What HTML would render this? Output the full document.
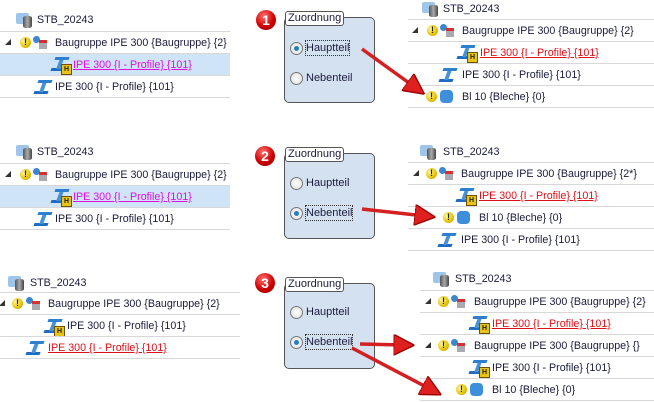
<!DOCTYPE html>
<html><head><meta charset="utf-8"><style>
body{margin:0;width:654px;height:402px;background:#fff;position:relative;overflow:hidden;font-family:"Liberation Sans",sans-serif;font-size:10.7px;color:#1b1b3c}
.a{position:absolute}
.t{position:absolute;white-space:nowrap;line-height:14px}
.r{color:#e0101a;text-decoration:underline}
.m{color:#e010e0;text-decoration:underline}
.ln{position:absolute;height:1px;background:#d8d8d8}
.hl{position:absolute;background:#cfe4f7}
.w{position:absolute;width:11px;height:11px;border-radius:50%;background:radial-gradient(circle at 35% 35%,#fff6a0,#e6c200 60%,#a88a00);font:bold 9px/11px "Liberation Sans",sans-serif;text-align:center;color:#222}
.tr{position:absolute;width:0;height:0;border-left:6px solid transparent;border-bottom:6px solid #333}
.as{position:absolute;width:16px;height:14px}
.as:before{content:"";position:absolute;left:0;top:0;width:7px;height:7px;border-radius:50%;background:#3a86cf}
.as:after{content:"";position:absolute;left:6px;top:4px;width:8px;height:9px;background:#a9a9b0;border-top:3px solid #d83030;box-sizing:border-box}
.ip{position:absolute;width:16px;height:14px;transform:skewX(-20deg);background:linear-gradient(#2d7fd0,#2d7fd0) 0 0/14px 3px no-repeat,linear-gradient(#4592d8,#4592d8) 5px 2px/4px 10px no-repeat,linear-gradient(#1f6cc0,#1f6cc0) 0 11px/14px 3px no-repeat}
.h{position:absolute;width:9px;height:9px;background:#e9c21a;border:1px solid #6a5000;font:bold 7px/9px "Liberation Sans",sans-serif;text-align:center;color:#222}
.st{position:absolute;width:18px;height:16px}
.st:before{content:"";position:absolute;left:0;top:1px;width:13px;height:11px;background:#9fc6ea;border-radius:2px}
.st:after{content:"";position:absolute;left:7px;top:4px;width:9px;height:12px;background:linear-gradient(90deg,#555,#aaa,#444);border-radius:3px/2px}
.bl{position:absolute;width:13px;height:13px;background:#3d8fdc;border-radius:4px}
.num{position:absolute;width:20px;height:20px;border-radius:50%;background:radial-gradient(circle at 40% 30%,#ff7070,#d00000 55%,#800);color:#fff;font:bold 14px/20px "Liberation Sans",sans-serif;text-align:center}
.dlg{position:absolute;width:89px;height:84px;border:1px solid #555;border-radius:5px;background:#d4e1f0}
.lg{position:absolute;background:#fff;border:1px solid #555;border-radius:3px;padding:0 2px;line-height:13px;font-size:11px}
.rb{position:absolute;width:11px;height:11px;border-radius:50%;border:1px solid #777;background:radial-gradient(circle,#fff,#ddd)}
.rb.on:after{content:"";position:absolute;left:3px;top:3px;width:5px;height:5px;border-radius:50%;background:#1f7fc8}
.fo{outline:1px dotted #333}
.dlgt{font-size:11px}
</style></head><body>

<!-- Panel 1 left -->
<div class="st" style="left:16px;top:12px"></div><span class="t" style="left:37px;top:13px">STB_20243</span>
<div class="ln" style="left:0;top:31px;width:230px"></div>
<div class="tr" style="left:5px;top:39px"></div><div class="w" style="left:20px;top:37px">!</div><div class="as" style="left:33px;top:36px"></div>
<span class="t" style="left:55px;top:36px">Baugruppe IPE 300 {Baugruppe} {2}</span>
<div class="hl" style="left:0;top:53px;width:230px;height:22px"></div>
<div class="ln" style="left:0;top:53px;width:230px"></div>
<div class="ip" style="left:53px;top:57px"></div><div class="h" style="left:61px;top:64px">H</div>
<span class="t m" style="left:73px;top:58px">IPE 300 {I - Profile} {101}</span>
<div class="ln" style="left:0;top:75px;width:230px"></div>
<div class="ip" style="left:36px;top:80px"></div><span class="t" style="left:55px;top:80px">IPE 300 {I - Profile} {101}</span>
<div class="ln" style="left:0;top:97px;width:230px"></div>

<!-- Panel 2 left -->
<div class="st" style="left:16px;top:144px"></div><span class="t" style="left:37px;top:145px">STB_20243</span>
<div class="ln" style="left:0;top:163px;width:230px"></div>
<div class="tr" style="left:5px;top:171px"></div><div class="w" style="left:20px;top:169px">!</div><div class="as" style="left:33px;top:168px"></div>
<span class="t" style="left:55px;top:168px">Baugruppe IPE 300 {Baugruppe} {2}</span>
<div class="hl" style="left:0;top:185px;width:230px;height:22px"></div>
<div class="ln" style="left:0;top:185px;width:230px"></div>
<div class="ip" style="left:53px;top:189px"></div><div class="h" style="left:61px;top:196px">H</div>
<span class="t m" style="left:73px;top:190px">IPE 300 {I - Profile} {101}</span>
<div class="ln" style="left:0;top:207px;width:230px"></div>
<div class="ip" style="left:36px;top:212px"></div><span class="t" style="left:55px;top:212px">IPE 300 {I - Profile} {101}</span>
<div class="ln" style="left:0;top:229px;width:230px"></div>

<!-- Panel 3 left -->
<div class="st" style="left:8px;top:275px"></div><span class="t" style="left:30px;top:276px">STB_20243</span>
<div class="ln" style="left:0;top:292px;width:240px"></div>
<div class="tr" style="left:-1px;top:300px"></div><div class="w" style="left:12px;top:298px">!</div><div class="as" style="left:26px;top:297px"></div>
<span class="t" style="left:48px;top:297px">Baugruppe IPE 300 {Baugruppe} {2}</span>
<div class="ln" style="left:0;top:314px;width:240px"></div>
<div class="ip" style="left:46px;top:319px"></div><div class="h" style="left:54px;top:326px">H</div>
<span class="t" style="left:67px;top:319px">IPE 300 {I - Profile} {101}</span>
<div class="ln" style="left:0;top:336px;width:240px"></div>
<div class="ip" style="left:28px;top:341px"></div><span class="t r" style="left:48px;top:341px">IPE 300 {I - Profile} {101}</span>
<div class="ln" style="left:0;top:358px;width:240px"></div>

<!-- Dialogs -->
<div class="num" style="left:256px;top:10px">1</div>
<div class="dlg" style="left:284px;top:17px"></div><div class="lg" style="left:285px;top:11px">Zuordnung</div>
<div class="rb on" style="left:290px;top:42px"></div><span class="t fo dlgt" style="left:306px;top:41px">Hauptteil</span>
<div class="rb" style="left:290px;top:72px"></div><span class="t dlgt" style="left:306px;top:71px">Nebenteil</span>

<div class="num" style="left:255px;top:146px">2</div>
<div class="dlg" style="left:284px;top:153px"></div><div class="lg" style="left:285px;top:147px">Zuordnung</div>
<div class="rb" style="left:290px;top:177px"></div><span class="t dlgt" style="left:306px;top:176px">Hauptteil</span>
<div class="rb on" style="left:290px;top:207px"></div><span class="t fo dlgt" style="left:306px;top:206px">Nebenteil</span>

<div class="num" style="left:255px;top:273px">3</div>
<div class="dlg" style="left:284px;top:283px"></div><div class="lg" style="left:285px;top:277px">Zuordnung</div>
<div class="rb" style="left:290px;top:306px"></div><span class="t dlgt" style="left:306px;top:305px">Hauptteil</span>
<div class="rb on" style="left:290px;top:336px"></div><span class="t fo dlgt" style="left:306px;top:335px">Nebenteil</span>

<!-- Panel 1 right -->
<div class="st" style="left:422px;top:1px"></div><span class="t" style="left:443px;top:2px">STB_20243</span>
<div class="ln" style="left:408px;top:19px;width:246px"></div>
<div class="tr" style="left:412px;top:27px"></div><div class="w" style="left:427px;top:25px">!</div><div class="as" style="left:440px;top:24px"></div>
<span class="t" style="left:462px;top:24px">Baugruppe IPE 300 {Baugruppe} {2}</span>
<div class="ln" style="left:408px;top:41px;width:246px"></div>
<div class="ip" style="left:459px;top:45px"></div><div class="h" style="left:467px;top:52px">H</div>
<span class="t r" style="left:480px;top:46px">IPE 300 {I - Profile} {101}</span>
<div class="ln" style="left:408px;top:63px;width:246px"></div>
<div class="ip" style="left:441px;top:68px"></div><span class="t" style="left:462px;top:68px">IPE 300 {I - Profile} {101}</span>
<div class="ln" style="left:408px;top:85px;width:246px"></div>
<div class="w" style="left:426px;top:91px">!</div><div class="bl" style="left:440px;top:90px"></div>
<span class="t" style="left:462px;top:90px">Bl 10 {Bleche} {0}</span>
<div class="ln" style="left:408px;top:107px;width:246px"></div>

<!-- Panel 2 right -->
<div class="st" style="left:420px;top:144px"></div><span class="t" style="left:443px;top:145px">STB_20243</span>
<div class="ln" style="left:408px;top:162px;width:246px"></div>
<div class="tr" style="left:413px;top:170px"></div><div class="w" style="left:426px;top:168px">!</div><div class="as" style="left:439px;top:167px"></div>
<span class="t" style="left:461px;top:167px">Baugruppe IPE 300 {Baugruppe} {2*}</span>
<div class="ln" style="left:408px;top:184px;width:246px"></div>
<div class="ip" style="left:458px;top:188px"></div><div class="h" style="left:466px;top:195px">H</div>
<span class="t r" style="left:479px;top:189px">IPE 300 {I - Profile} {101}</span>
<div class="ln" style="left:408px;top:206px;width:246px"></div>
<div class="w" style="left:443px;top:212px">!</div><div class="bl" style="left:457px;top:211px"></div>
<span class="t" style="left:479px;top:211px">Bl 10 {Bleche} {0}</span>
<div class="ln" style="left:408px;top:228px;width:246px"></div>
<div class="ip" style="left:440px;top:233px"></div><span class="t" style="left:461px;top:233px">IPE 300 {I - Profile} {101}</span>
<div class="ln" style="left:408px;top:250px;width:246px"></div>

<!-- Panel 3 right -->
<div class="st" style="left:433px;top:271px"></div><span class="t" style="left:455px;top:272px">STB_20243</span>
<div class="ln" style="left:420px;top:290px;width:234px"></div>
<div class="tr" style="left:425px;top:298px"></div><div class="w" style="left:438px;top:296px">!</div><div class="as" style="left:451px;top:295px"></div>
<span class="t" style="left:474px;top:295px">Baugruppe IPE 300 {Baugruppe} {2}</span>
<div class="ln" style="left:420px;top:312px;width:234px"></div>
<div class="ip" style="left:471px;top:316px"></div><div class="h" style="left:479px;top:323px">H</div>
<span class="t r" style="left:492px;top:317px">IPE 300 {I - Profile} {101}</span>
<div class="ln" style="left:420px;top:334px;width:234px"></div>
<div class="tr" style="left:425px;top:342px"></div><div class="w" style="left:438px;top:340px">!</div><div class="as" style="left:451px;top:339px"></div>
<span class="t" style="left:474px;top:339px">Baugruppe IPE 300 {Baugruppe} {}</span>
<div class="ln" style="left:420px;top:356px;width:234px"></div>
<div class="ip" style="left:471px;top:360px"></div><div class="h" style="left:479px;top:367px">H</div>
<span class="t" style="left:492px;top:361px">IPE 300 {I - Profile} {101}</span>
<div class="ln" style="left:420px;top:378px;width:234px"></div>
<div class="w" style="left:456px;top:384px">!</div><div class="bl" style="left:470px;top:383px"></div>
<span class="t" style="left:492px;top:383px">Bl 10 {Bleche} {0}</span>
<div class="ln" style="left:420px;top:400px;width:234px"></div>

<!-- Arrows -->
<svg class="a" style="left:0;top:0" width="654" height="402">
<defs>
<marker id="m" markerWidth="6" markerHeight="6" refX="3" refY="3" orient="auto" markerUnits="strokeWidth"><path d="M0,0 L6,3 L0,6 Z" fill="#e02020" stroke="#900" stroke-width="0.4"/></marker></defs>
<g stroke="#d42020" stroke-width="3.5" fill="none" marker-end="url(#m)">
<line x1="362" y1="49" x2="416" y2="88"/>
<line x1="362" y1="209" x2="425" y2="216"/>
<line x1="360" y1="344" x2="404" y2="345"/>
<line x1="352" y1="348" x2="432" y2="390"/>
</g>
</svg>
</body></html>
